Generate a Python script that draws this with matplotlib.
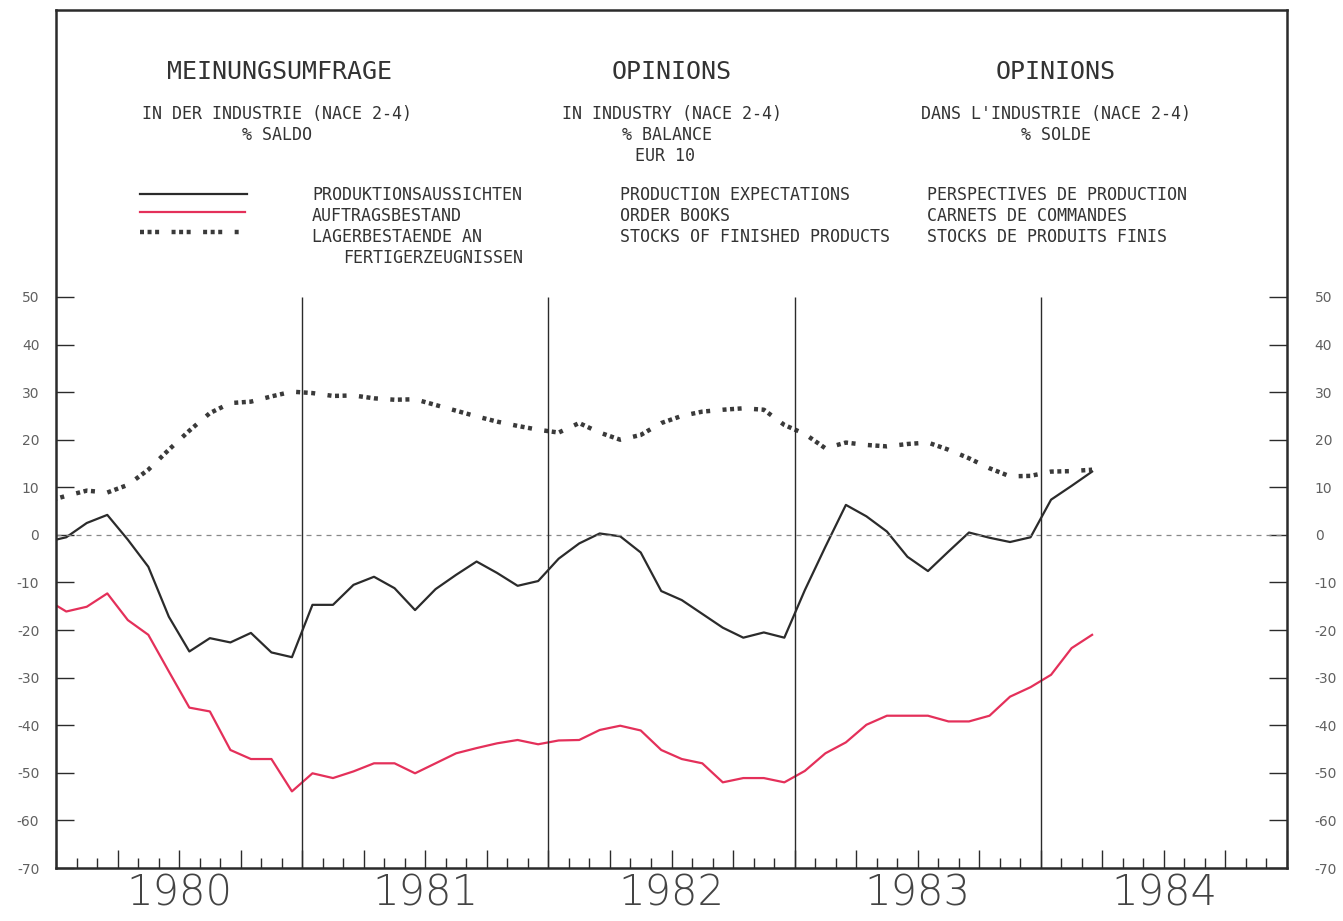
import numpy as np
import matplotlib
matplotlib.use("Agg")
import matplotlib.pyplot as plt
from matplotlib.lines import Line2D
from matplotlib.ticker import MultipleLocator, FixedLocator

# Monatswerte Dez 1979 .. Maerz 1984 (Saldo in %)
start_year = 1979
start_month = 12
produktion = [-1.5, -0.5, 2.5, 4.2, -1.0, -6.7, -17.2, -24.5, -21.7, -22.6, -20.6, -24.7, -25.7,
              -14.7, -14.7, -10.5, -8.8, -11.2, -15.8, -11.4, -8.4, -5.6, -8.0, -10.7, -9.7,
              -5.0, -1.8, 0.3, -0.3, -3.7, -11.8, -13.7, -16.6, -19.5, -21.6, -20.5, -21.6,
              -11.6, -2.5, 6.3, 3.9, 0.7, -4.6, -7.6, -3.5, 0.5, -0.6, -1.5, -0.5,
              7.4, 10.3, 13.3]
auftraege = [-13.5, -16.1, -15.1, -12.3, -17.9, -21.0, -28.7, -36.3, -37.1, -45.2, -47.1, -47.1, -53.9,
             -50.1, -51.1, -49.7, -48.0, -48.0, -50.1, -48.0, -45.9, -44.8, -43.8, -43.1, -44.0,
             -43.2, -43.1, -41.0, -40.1, -41.1, -45.2, -47.1, -48.0, -52.0, -51.1, -51.1, -52.0,
             -49.6, -45.9, -43.6, -39.9, -38.0, -38.0, -38.0, -39.2, -39.2, -38.0, -34.0, -32.0,
             -29.4, -23.8, -21.0]
lager = [7.0, 8.2, 9.3, 8.9, 10.5, 13.7, 17.9, 21.9, 25.6, 27.7, 28.0, 29.1, 30.1,
         29.8, 29.2, 29.3, 28.7, 28.4, 28.5, 27.3, 26.1, 24.9, 23.8, 22.9, 22.1,
         21.5, 23.5, 21.5, 20.0, 21.0, 23.5, 25.0, 25.9, 26.3, 26.6, 26.3, 23.1,
         21.2, 18.2, 19.4, 18.9, 18.6, 19.1, 19.4, 17.9, 16.1, 14.0, 12.3, 12.4,
         13.3, 13.4, 13.7]
years = [1980, 1981, 1982, 1983, 1984]
y_ticks = [50, 40, 30, 20, 10, 0, -10, -20, -30, -40, -50, -60, -70]

# Monatsmitte als x-Position
n = len(produktion)
month_idx = np.arange(n) + (start_year * 12 + start_month - 1)
x = month_idx / 12.0 + 0.5 / 12.0

W, H = 1343, 921
fig = plt.figure(figsize=(W / 100, H / 100), dpi=100)
fig.patch.set_facecolor("white")
ax = fig.add_axes([56 / W, 1 - 868 / H, (1287 - 56) / W, (868 - 10) / H])

ink = "#2b2b2b"
red = "#e4305a"
dots = (0, (0.9, 0.8, 0.9, 0.8, 0.9, 2.8))

ax.plot(x, produktion, color=ink, lw=1.6)
ax.plot(x, auftraege, color=red, lw=1.6)
ax.plot(x, lager, color="#3a3a3a", lw=3.2, linestyle=dots, dash_capstyle="butt")

ax.axhline(0, color="#888888", lw=0.9, ls=(0, (4, 4)))
ax.vlines(years[1:], -70, 50, color=ink, lw=1.0)

ax.set_xlim(1980, 1985)
ax.set_ylim(-70, 110.3)

for s in ax.spines.values():
    s.set_color(ink)
    s.set_linewidth(1.8)

# Y-Achse links und rechts
ax.yaxis.set_major_locator(FixedLocator(y_ticks))
ax.set_yticklabels([str(v) for v in y_ticks])
ax.tick_params(axis="y", which="major", direction="in", length=13, width=1.0,
               color=ink, labelsize=10, labelcolor="#606060", pad=12,
               left=True, right=True, labelleft=True, labelright=False)
ax2 = ax.secondary_yaxis("right")
ax2.yaxis.set_major_locator(FixedLocator(y_ticks))
ax2.set_yticklabels([str(v) for v in y_ticks])
ax2.tick_params(axis="y", direction="in", length=0, labelsize=10,
                labelcolor="#606060", pad=20)
ax2.spines["right"].set_visible(False)

# X-Achse: Monats- und Quartalsstriche
ax.xaxis.set_major_locator(MultipleLocator(0.25))
ax.xaxis.set_minor_locator(MultipleLocator(1 / 12))
ax.tick_params(axis="x", which="major", direction="in", length=13, width=1.0,
               color=ink, labelbottom=False)
ax.tick_params(axis="x", which="minor", direction="in", length=7, width=1.0, color=ink)

for yr in years:
    ax.text(yr + 0.5, -0.029, str(yr), transform=ax.get_xaxis_transform(),
            ha="center", va="center", fontsize=30, color="#444444",
            family="DejaVu Sans", fontweight="light")

# Kopftexte
mono = "DejaVu Sans Mono"


def ftext(px, py, s, size=12, ha="center"):
    fig.text(px / W, 1 - py / H, s, ha=ha, va="center", fontsize=size,
             family=mono, color="#333333")


ftext(280, 72, "MEINUNGSUMFRAGE", 18)
ftext(672, 72, "OPINIONS", 18)
ftext(1056, 72, "OPINIONS", 18)

ftext(277, 114, "IN DER INDUSTRIE (NACE 2-4)")
ftext(277, 135, "% SALDO")
ftext(672, 114, "IN INDUSTRY (NACE 2-4)")
ftext(667, 135, "% BALANCE")
ftext(665, 156, "EUR 10")
ftext(1056, 114, "DANS L'INDUSTRIE (NACE 2-4)")
ftext(1056, 135, "% SOLDE")

# Legende
fig.add_artist(Line2D([140 / W, 247 / W], [1 - 194 / H] * 2, color=ink, lw=1.6))
fig.add_artist(Line2D([140 / W, 245 / W], [1 - 212 / H] * 2, color=red, lw=1.6))
fig.add_artist(Line2D([140 / W, 240 / W], [1 - 232 / H] * 2, color="#3a3a3a", lw=3.2,
                      linestyle=dots, dash_capstyle="butt"))

rows = [
    ("PRODUKTIONSAUSSICHTEN", "PRODUCTION EXPECTATIONS", "PERSPECTIVES DE PRODUCTION"),
    ("AUFTRAGSBESTAND", "ORDER BOOKS", "CARNETS DE COMMANDES"),
    ("LAGERBESTAENDE AN", "STOCKS OF FINISHED PRODUCTS", "STOCKS DE PRODUITS FINIS"),
]
for k, (de, en, fr) in enumerate(rows):
    yy = 195 + 21 * k
    ftext(312, yy, de, ha="left")
    ftext(620, yy, en, ha="left")
    ftext(927, yy, fr, ha="left")
ftext(343, 258, "FERTIGERZEUGNISSEN", ha="left")

fig.savefig("out.png", dpi=100, facecolor="white")
